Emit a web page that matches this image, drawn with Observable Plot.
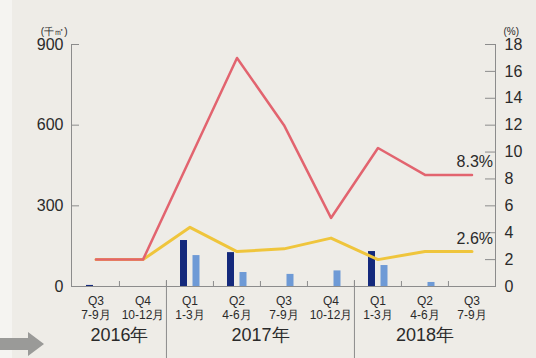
<!DOCTYPE html>
<html>
<head>
<meta charset="utf-8">
<script src="https://cdn.jsdelivr.net/npm/d3@7"></script>
<script src="https://cdn.jsdelivr.net/npm/@observablehq/plot@0.6"></script>
<style>
  html, body { margin: 0; padding: 0; background: #eeece7; }
  #wrap { position: relative; width: 536px; height: 358px; background: #eeece7; overflow: hidden; }
  #strip { position: absolute; left: 0; top: 0; width: 12px; height: 358px; background: #f5f4f1; }
  #arrow { position: absolute; left: 0; top: 330px; }
  #chart { position: absolute; left: 0; top: 0; }
</style>
</head>
<body>
<div id="wrap">
  <div id="strip"></div>
  <svg id="arrow" width="48" height="28"><polygon points="0,8 28,8 28,2 44,14 28,26 28,20 0,20" fill="#9a9a98"/></svg>
  <div id="chart"></div>
</div>
<script>
const quarters = ["Q3 2016","Q4 2016","Q1 2017","Q2 2017","Q3 2017","Q4 2017","Q1 2018","Q2 2018","Q3 2018"];
const quarterLabels = ["Q3\n7-9月","Q4\n10-12月","Q1\n1-3月","Q2\n4-6月","Q3\n7-9月","Q4\n10-12月","Q1\n1-3月","Q2\n4-6月","Q3\n7-9月"];
const darkBars = [4, 0, 171, 126, 0, 0, 130, 0, 0];
const lightBars = [0, 0, 115, 52, 45, 58, 78, 15, 0];
const redPct = [2, 2, 9.5, 17, 12, 5.1, 10.3, 8.3, 8.3];
const yellowPct = [2, 2, 4.4, 2.6, 2.8, 3.6, 2.0, 2.6, 2.6];
const leftTicks = [0, 300, 600, 900];
const rightTicks = [0, 2, 4, 6, 8, 10, 12, 14, 16, 18];
const years = ["2016年", "2017年", "2018年"];
const yearAnchor = ["Q4 2016", "Q2 2017", "Q2 2018"];
const yearShift = [-0.5, 0.5, 0];
const yearStarts = ["Q1 2017", "Q1 2018"];
const endLabels = ["8.3%", "2.6%"];

const W = 536, H = 358;
const mL = 71, mR = 41, mT = 44, mB = 72;
const fw = W - mL - mR, fh = H - mT - mB;
const bw = fw / quarters.length;
const k = 900 / 18;

const rows = quarters.map((q, i) => ({q, dark: darkBars[i], light: lightBars[i], red: redPct[i], yellow: yellowPct[i]}));
const last = rows[rows.length - 1];
const ends = [{q: last.q, v: last.red * k, t: endLabels[0]}, {q: last.q, v: last.yellow * k, t: endLabels[1]}];
const axisColor = "#8c8c8c";

const yearMarks = years.map((y, i) =>
  Plot.text([y], {x: () => yearAnchor[i], text: d => d, dx: yearShift[i] * bw, frameAnchor: "bottom", dy: 54, fontSize: 18, fill: "#2a2a2a"})
);

const chart = Plot.plot({
  width: W, height: H,
  marginLeft: mL, marginRight: mR, marginTop: mT, marginBottom: mB,
  style: {background: "transparent", fontFamily: "'Liberation Sans', Arial, sans-serif", color: "#2a2a2a"},
  x: {type: "band", domain: quarters, padding: 0, axis: null, label: null},
  y: {domain: [0, 900], axis: null, label: null},
  marks: [
    Plot.barY(rows, {x: "q", y: "dark", fill: "#14297c", insetLeft: 14, insetRight: 26}),
    Plot.barY(rows, {x: "q", y: "light", fill: "#6e9ad6", insetLeft: 26.5, insetRight: 13.5}),
    Plot.line(rows, {x: "q", y: d => d.yellow * k, stroke: "#efc53c", strokeWidth: 3}),
    Plot.line(rows, {x: "q", y: d => d.red * k, stroke: "#e2646f", strokeWidth: 2.5}),
    Plot.frame({anchor: "left", stroke: axisColor}),
    Plot.frame({anchor: "right", stroke: axisColor}),
    Plot.ruleY([0], {stroke: axisColor}),
    Plot.tickY(leftTicks, {y: d => d, stroke: axisColor, insetRight: fw - 8}),
    Plot.tickY(rightTicks.map(v => v * k), {y: d => d, stroke: axisColor, insetLeft: fw - 10}),
    Plot.axisY(leftTicks, {anchor: "left", tickSize: 0, tickPadding: 8, fontSize: 16, label: null, tickFormat: d => d}),
    Plot.axisY(rightTicks.map(v => v * k), {anchor: "right", tickSize: 0, tickPadding: 9, fontSize: 16, label: null, tickFormat: d => d / k}),
    Plot.axisX({anchor: "bottom", tickSize: 0, tickPadding: 8, fontSize: 12, lineHeight: 1.2, label: null, tickFormat: d => quarterLabels[quarters.indexOf(d)]}),
    Plot.ruleX(quarters.slice(1), {x: d => d, dx: -bw / 2, stroke: axisColor, insetTop: fh - 5}),
    Plot.ruleX(yearStarts, {x: d => d, dx: -bw / 2, stroke: axisColor, insetTop: fh - 6, insetBottom: -mB}),
    ...yearMarks,
    Plot.text(ends, {x: "q", y: "v", text: "t", dx: 21, dy: -13, textAnchor: "end", fontSize: 16}),
    Plot.text(["(千㎡)"], {text: d => d, frameAnchor: "top-left", textAnchor: "end", dx: -4, dy: -17, fontSize: 10}),
    Plot.text(["(%)"], {text: d => d, frameAnchor: "top-right", textAnchor: "start", dx: 8, dy: -17, fontSize: 10})
  ]
});
document.getElementById("chart").appendChild(chart);
</script>
</body>
</html>
